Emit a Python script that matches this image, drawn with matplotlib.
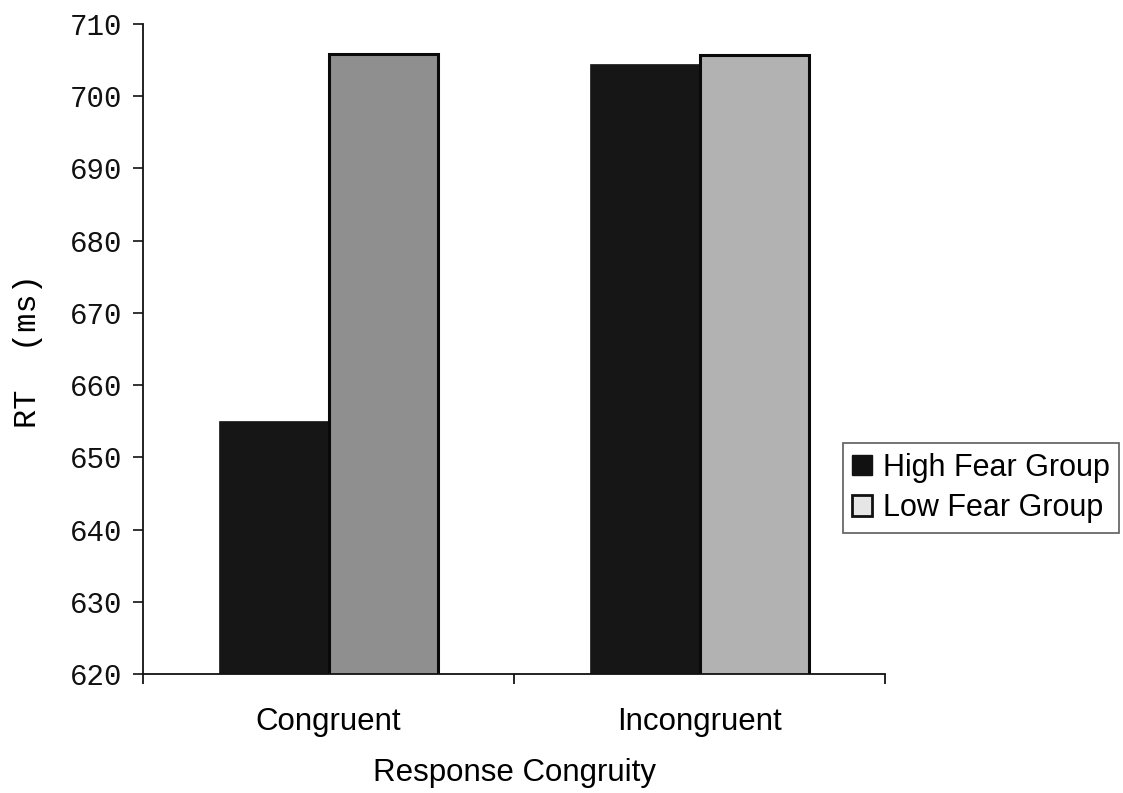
import matplotlib.pyplot as plt
from matplotlib.patches import Patch
import numpy as np

# Mean reaction times (ms) per congruity condition
conditions = ['Congruent', 'Incongruent']
high_fear = [655.0, 704.5]
low_fear = [705.9, 705.7]
y_ticks = [620, 630, 640, 650, 660, 670, 680, 690, 700, 710]

mono = 'Liberation Mono'
sans = 'Liberation Sans'

fig = plt.figure(figsize=(11.23, 7.93), dpi=100)
ax = fig.add_axes([0.1273, 0.150, 0.661, 0.8197])

x = np.arange(len(conditions))
w = 0.295
ax.bar(x - w / 2, high_fear, w, color='#161616', edgecolor='#161616',
       linewidth=0.5, zorder=2)
ax.bar(x + w / 2, low_fear, w, color=['#8f8f8f', '#b2b2b2'], edgecolor='#0a0a0a',
       linewidth=2.2, zorder=2)

ax.set_ylim(620, 710)
ax.set_xlim(-0.5, 1.5)
ax.set_yticks(y_ticks)
ax.set_yticklabels([str(t) for t in y_ticks], fontfamily=mono, fontsize=21)
ax.tick_params(axis='y', direction='out', length=7, width=1.2, pad=8, colors='#111111')

# category boundaries get the tick marks, names sit between them
ax.set_xticks([-0.5, 0.5, 1.5])
ax.set_xticklabels([])
ax.tick_params(axis='x', which='major', direction='out', length=7, width=1.2)
ax.set_xticks(x, minor=True)
ax.set_xticklabels(conditions, minor=True, fontfamily=sans, fontsize=22.5)
ax.tick_params(axis='x', which='minor', length=0, pad=24)

for side in ['top', 'right']:
    ax.spines[side].set_visible(False)
for side in ['left', 'bottom']:
    ax.spines[side].set_linewidth(1.3)
    ax.spines[side].set_color('#111111')

ax.set_ylabel('RT  (ms)', fontfamily=mono, fontsize=23)
ax.yaxis.set_label_coords(-0.135, 0.497)
ax.set_xlabel('Response Congruity', fontfamily=sans, fontsize=22.5, labelpad=15)

handles = [Patch(facecolor='#111111', edgecolor='#111111', label='High Fear Group'),
           Patch(facecolor='#e6e6e6', edgecolor='#111111', linewidth=2, label='Low Fear Group')]
leg = fig.legend(handles=handles, loc='center left', bbox_to_anchor=(0.7505, 0.3846),
                 prop={'family': sans, 'size': 22}, fancybox=False, frameon=True,
                 handlelength=0.65, handleheight=0.65, handletextpad=0.35,
                 labelspacing=0.35, borderpad=0.3, borderaxespad=0)
leg.get_frame().set_edgecolor('#333333')
leg.get_frame().set_linewidth(1.2)

fig.savefig('out.png', dpi=100)
